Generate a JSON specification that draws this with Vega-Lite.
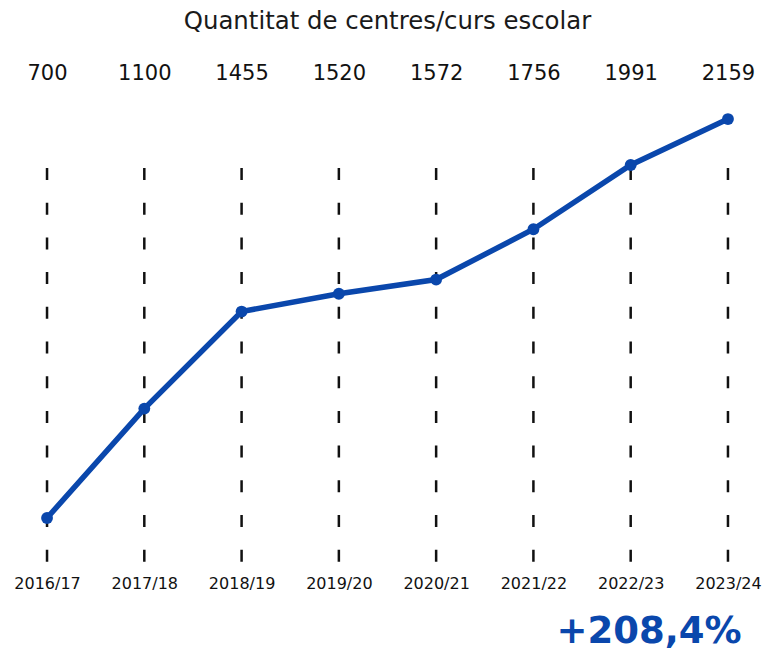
{
  "$schema": "https://vega.github.io/schema/vega-lite/v6.json",
  "autosize": "none",
  "width": 707,
  "height": 394,
  "padding": {"left": 34, "top": 168, "right": 33, "bottom": 90},
  "background": "white",
  "config": {
    "view": {"stroke": null},
    "font": "DejaVu Sans",
    "title": {"font": "DejaVu Sans", "fontSize": 24.4, "fontWeight": "normal", "color": "#1a1a1a", "offset": 28}
  },
  "title": {"text": "Quantitat de centres/curs escolar"},
  "data": {
    "values": [
      {"curs": "2016/17", "valor": 700},
      {"curs": "2017/18", "valor": 1100},
      {"curs": "2018/19", "valor": 1455},
      {"curs": "2019/20", "valor": 1520},
      {"curs": "2020/21", "valor": 1572},
      {"curs": "2021/22", "valor": 1756},
      {"curs": "2022/23", "valor": 1991},
      {"curs": "2023/24", "valor": 2159}
    ]
  },
  "layer": [
    {
      "mark": {"type": "rule", "color": "#111111", "strokeWidth": 2.5, "strokeDash": [12, 22.7]},
      "encoding": {
        "x": {
          "field": "curs",
          "type": "ordinal",
          "sort": null,
          "scale": {"type": "point", "padding": 0.134},
          "axis": {
            "orient": "bottom",
            "title": "+208,4%",
            "titleFont": "DejaVu Sans",
            "titleFontSize": 37,
            "titleFontWeight": "bold",
            "titleColor": "#0A47AC",
            "titleAnchor": "end",
            "titlePadding": 22,
            "labelAngle": 0,
            "labelFont": "DejaVu Sans",
            "labelFontSize": 16,
            "labelColor": "#111111",
            "labelPadding": 13,
            "labelOverlap": false,
            "ticks": false,
            "domain": false,
            "grid": false
          }
        }
      }
    },
    {
      "encoding": {
        "x": {
          "field": "valor",
          "type": "ordinal",
          "sort": null,
          "scale": {"type": "point", "padding": 0.134},
          "axis": {
            "orient": "top",
            "title": null,
            "labelAngle": 0,
            "labelFont": "DejaVu Sans",
            "labelFontSize": 21,
            "labelColor": "#111111",
            "labelPadding": 85,
            "labelOverlap": false,
            "ticks": false,
            "domain": false,
            "grid": false
          }
        },
        "y": {
          "field": "valor",
          "type": "quantitative",
          "scale": {"domain": [539, 1980], "nice": false, "zero": false},
          "axis": null
        }
      },
      "layer": [
        {"mark": {"type": "line", "color": "#0A47AC", "strokeWidth": 5.5, "clip": false}},
        {"mark": {"type": "point", "filled": true, "opacity": 1, "color": "#0A47AC", "size": 140, "clip": false}}
      ]
    }
  ],
  "resolve": {"scale": {"x": "independent"}, "axis": {"x": "independent"}}
}
